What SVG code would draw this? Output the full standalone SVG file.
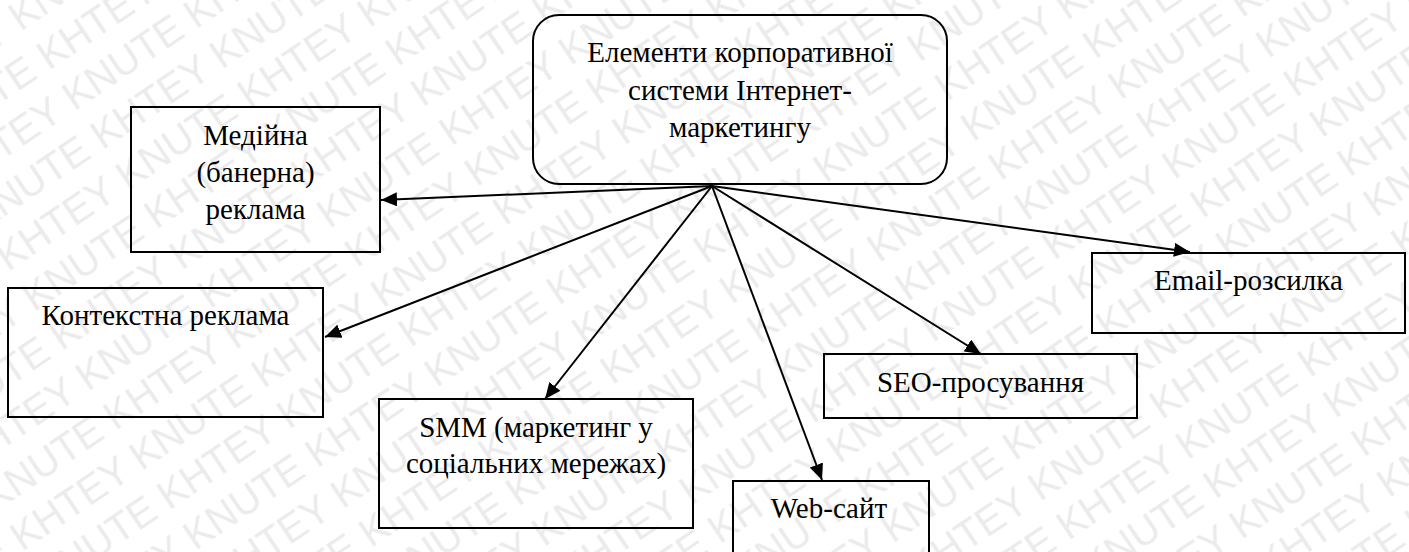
<svg xmlns="http://www.w3.org/2000/svg" width="1409" height="552" viewBox="0 0 1409 552">
  <style>
    .box { fill: none; stroke: #000; stroke-width: 2; }
    .lbl { font-size: 29px; fill: #000; text-anchor: middle; }
    .wm { font-size: 40px; fill: #ebebeb; }
    .edge { stroke: #000; stroke-width: 2; fill: none; marker-end: url(#arr); }
  </style>
  <defs>
    <marker id="arr" markerUnits="userSpaceOnUse" markerWidth="17" markerHeight="14" refX="16" refY="7" orient="auto">
      <path d="M0,0 L16,7 L0,14 Z" fill="#000"/>
    </marker>
    <pattern id="wmp" patternUnits="userSpaceOnUse" width="291.16" height="96" patternTransform="rotate(-34)">
      <text class="wm" style="font-family:'Liberation Sans',sans-serif" x="-291.16" y="38">KNUTE KHTEY KNUTE KHTEY KNUTE KHTEY</text>
      <text class="wm" style="font-family:'Liberation Sans',sans-serif" x="-145.58" y="86">KNUTE KHTEY KNUTE KHTEY KNUTE KHTEY</text>
    </pattern>
  </defs>
  <rect x="0" y="0" width="1409" height="552" fill="#fff"/>
  <rect x="0" y="0" width="1409" height="552" fill="url(#wmp)"/>

  <g id="connectors">
    <line class="edge" x1="712" y1="186" x2="381" y2="200"/>
    <line class="edge" x1="712" y1="186" x2="325" y2="337"/>
    <line class="edge" x1="712" y1="186" x2="545" y2="399"/>
    <line class="edge" x1="712" y1="186" x2="822" y2="480"/>
    <line class="edge" x1="712" y1="186" x2="981" y2="354"/>
    <line class="edge" x1="712" y1="186" x2="1190" y2="252"/>
  </g>

  <g id="center">
    <rect class="box" x="533" y="15" width="414" height="169" rx="26" ry="26"/>
    <text class="lbl" style="font-family:'Liberation Serif',serif" x="740" y="62">Елементи корпоративної</text>
    <text class="lbl" style="font-family:'Liberation Serif',serif" x="740" y="100">системи Інтернет-</text>
    <text class="lbl" style="font-family:'Liberation Serif',serif" x="740" y="137">маркетингу</text>
  </g>

  <g id="media">
    <rect class="box" x="131" y="107" width="249" height="145"/>
    <text class="lbl" style="font-family:'Liberation Serif',serif" x="255.5" y="145">Медійна</text>
    <text class="lbl" style="font-family:'Liberation Serif',serif" x="255.5" y="182">(банерна)</text>
    <text class="lbl" style="font-family:'Liberation Serif',serif" x="255.5" y="219">реклама</text>
  </g>

  <g id="context">
    <rect class="box" x="8" y="288" width="315" height="129"/>
    <text class="lbl" style="font-family:'Liberation Serif',serif" x="165.5" y="325">Контекстна реклама</text>
  </g>

  <g id="smm">
    <rect class="box" x="379" y="399" width="314" height="129"/>
    <text class="lbl" style="font-family:'Liberation Serif',serif" x="536" y="437">SMM (маркетинг у</text>
    <text class="lbl" style="font-family:'Liberation Serif',serif" x="536" y="473">соціальних мережах)</text>
  </g>

  <g id="web">
    <rect class="box" x="733" y="481" width="196" height="80"/>
    <text class="lbl" style="font-family:'Liberation Serif',serif" x="829" y="518">Web-сайт</text>
  </g>

  <g id="seo">
    <rect class="box" x="824" y="354" width="313" height="64"/>
    <text class="lbl" style="font-family:'Liberation Serif',serif" x="980.5" y="392">SEO-просування</text>
  </g>

  <g id="email">
    <rect class="box" x="1092" y="253" width="313" height="80"/>
    <text class="lbl" style="font-family:'Liberation Serif',serif" x="1248.5" y="290">Email-розсилка</text>
  </g>
</svg>
